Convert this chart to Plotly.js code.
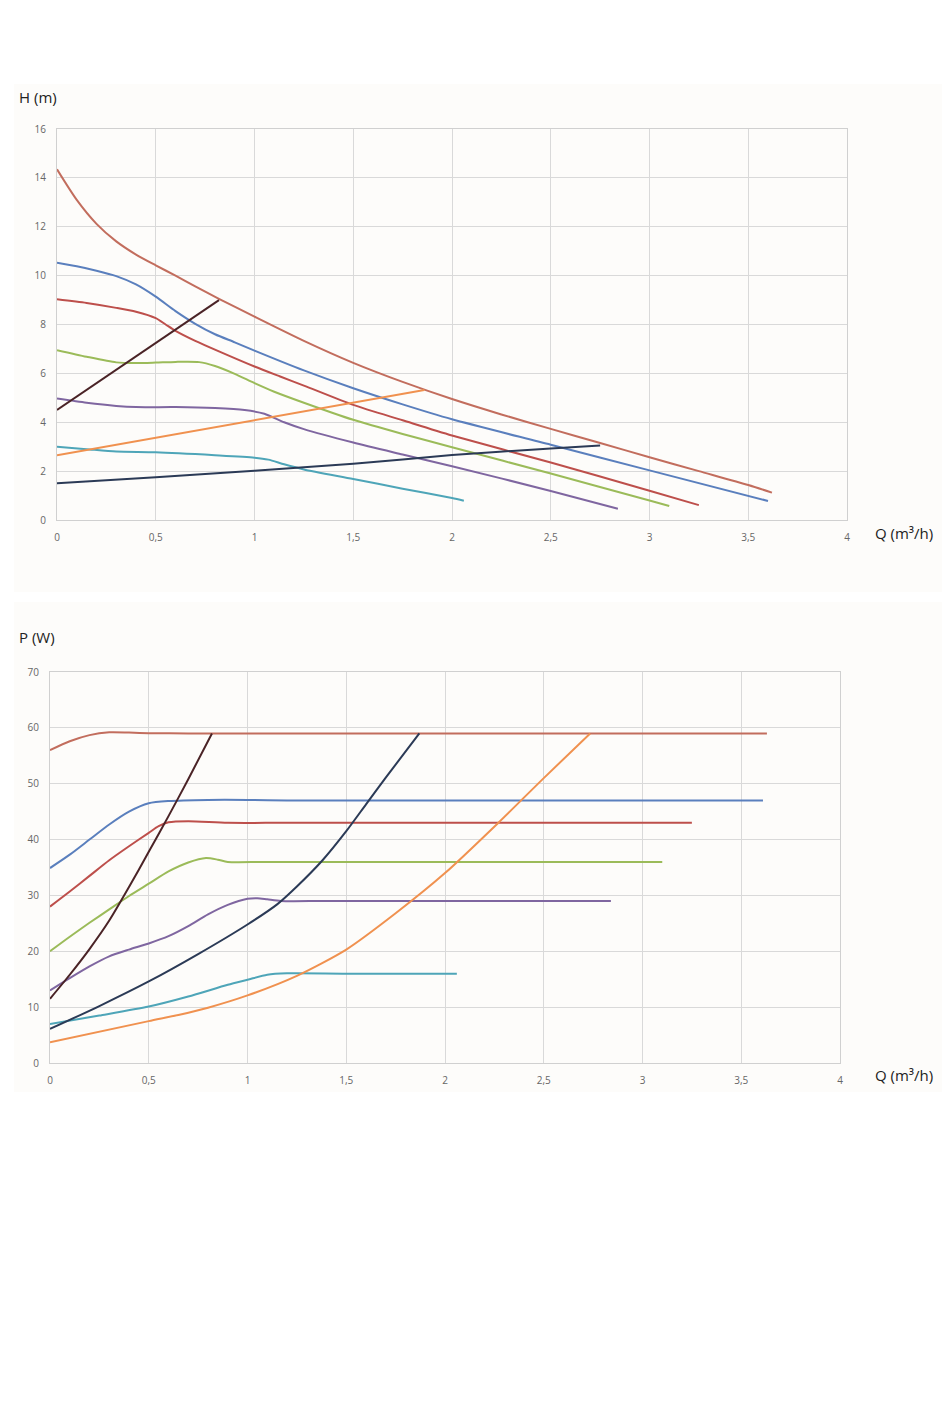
<!DOCTYPE html>
<html>
<head>
<meta charset="utf-8">
<script src="https://cdn.plot.ly/plotly-3.0.1.min.js"></script>
<style>
  html, body { margin: 0; padding: 0; background: #ffffff; }
  #fig { width: 950px; height: 1419px; }
</style>
</head>
<body>
<div id="fig"></div>
<script>
// ---- head curves H(Q) ----
var hQ1 = [0, 0.1, 0.2, 0.3, 0.4, 0.5, 0.6, 0.7, 0.82, 1, 1.25, 1.5, 1.75, 2, 2.25, 2.5, 2.75, 3, 3.25, 3.5, 3.62];
var hH1 = [14.35, 13.1, 12.12, 11.4, 10.86, 10.42, 10.0, 9.56, 9.05, 8.32, 7.33, 6.43, 5.65, 4.95, 4.32, 3.73, 3.15, 2.57, 2.0, 1.43, 1.12];
var hQ2 = [0, 0.1, 0.2, 0.3, 0.4, 0.5, 0.6, 0.7, 0.8, 0.9, 1, 1.25, 1.5, 1.75, 2, 2.5, 3, 3.6];
var hH2 = [10.53, 10.38, 10.2, 9.98, 9.64, 9.14, 8.55, 8.03, 7.6, 7.27, 6.93, 6.12, 5.39, 4.73, 4.12, 3.08, 2.03, 0.78];
var hQ3 = [0, 0.15, 0.3, 0.4, 0.5, 0.55, 0.6, 0.7, 0.82, 1, 1.13, 1.25, 1.5, 1.75, 2, 2.5, 3, 3.25];
var hH3 = [9.03, 8.88, 8.68, 8.52, 8.26, 8.0, 7.74, 7.33, 6.9, 6.28, 5.87, 5.5, 4.71, 4.08, 3.46, 2.35, 1.2, 0.61];
var hQ4 = [0, 0.15, 0.3, 0.4, 0.5, 0.6, 0.72, 0.8, 0.9, 1, 1.1, 1.25, 1.5, 1.75, 2, 2.5, 3, 3.1];
var hH4 = [6.95, 6.68, 6.45, 6.42, 6.44, 6.47, 6.46, 6.3, 5.98, 5.6, 5.25, 4.8, 4.1, 3.52, 2.98, 1.9, 0.8, 0.57];
var hQ5 = [0, 0.15, 0.3, 0.4, 0.6, 0.8, 0.95, 1.05, 1.15, 1.25, 1.5, 1.75, 2, 2.5, 2.84];
var hH5 = [4.97, 4.8, 4.67, 4.62, 4.62, 4.58, 4.5, 4.35, 4.0, 3.72, 3.17, 2.68, 2.2, 1.19, 0.46];
var hQ6 = [0, 0.15, 0.3, 0.5, 0.8, 1, 1.07, 1.15, 1.25, 1.5, 1.75, 2, 2.06];
var hH6 = [3.0, 2.9, 2.8, 2.77, 2.65, 2.55, 2.47, 2.28, 2.07, 1.68, 1.28, 0.9, 0.79];
// system lines
var hQ7 = [0, 0.82];
var hH7 = [4.5, 9.0];
var hQ8 = [0, 1.86];
var hH8 = [2.65, 5.32];
var hQ9 = [0, 0.5, 1, 1.5, 2, 2.5, 2.75];
var hH9 = [1.5, 1.75, 2.02, 2.3, 2.66, 2.93, 3.05];

// ---- power curves P(Q) ----
var pQ1 = [0, 0.1, 0.2, 0.3, 0.4, 0.5, 0.7, 1, 3.63];
var pP1 = [56, 57.6, 58.7, 59.2, 59.15, 59.05, 59, 59, 59];
var pQ2 = [0, 0.1, 0.2, 0.3, 0.4, 0.5, 0.6, 0.8, 1, 1.2, 1.5, 3.61];
var pP2 = [34.9, 37.3, 40, 42.7, 45, 46.5, 46.9, 47.1, 47.1, 47, 47, 47];
var pQ3 = [0, 0.1, 0.2, 0.3, 0.4, 0.5, 0.55, 0.6, 0.7, 0.9, 1.2, 3.25];
var pP3 = [28, 30.7, 33.5, 36.3, 38.8, 41.2, 42.4, 43.1, 43.3, 43, 43, 43];
var pQ4 = [0, 0.1, 0.2, 0.3, 0.4, 0.5, 0.6, 0.7, 0.79, 0.85, 0.9, 1.1, 3.1];
var pP4 = [20, 22.6, 25.1, 27.5, 29.9, 32.1, 34.3, 35.9, 36.7, 36.4, 36, 36, 36];
var pQ5 = [0, 0.1, 0.2, 0.3, 0.4, 0.5, 0.6, 0.7, 0.8, 0.9, 1, 1.05, 1.1, 1.17, 1.4, 2.84];
var pP5 = [13, 15.2, 17.3, 19.1, 20.3, 21.4, 22.7, 24.5, 26.6, 28.3, 29.4, 29.5, 29.3, 29, 29, 29];
var pQ6 = [0, 0.25, 0.5, 0.7, 0.9, 1, 1.1, 1.2, 1.5, 2.06];
var pP6 = [7, 8.5, 10.1, 11.9, 14, 14.9, 15.8, 16.05, 16, 16];
var pQ7 = [0, 0.1, 0.2, 0.3, 0.4, 0.5, 0.6, 0.7, 0.82];
var pP7 = [11.5, 15.8, 20.4, 25.5, 31.5, 37.8, 44.2, 50.8, 59];
var pQ8 = [0, 0.5, 0.65, 0.8, 1, 1.25, 1.5, 1.75, 2, 2.27, 2.5, 2.735];
var pP8 = [3.7, 7.5, 8.6, 9.9, 12.1, 15.6, 20.3, 26.8, 34, 43, 51, 59];
var pQ9 = [0, 0.25, 0.5, 0.75, 1, 1.15, 1.25, 1.38, 1.5, 1.6, 1.7, 1.87];
var pP9 = [6.1, 10.2, 14.6, 19.5, 24.8, 28.4, 31.6, 36.3, 41.5, 46.3, 51.1, 59];

var colors = ['#c26d5d', '#5a7fbd', '#bd4f4b', '#9bbb59', '#7f66a0', '#4ea5b8', '#4a2326', '#f0914f', '#2b3a56'];

var W = 950, H = 1419;
function px(x) { return x / W; }
function py(y) { return 1 - y / H; }

var traces = [];
var hQ = [hQ1, hQ2, hQ3, hQ4, hQ5, hQ6, hQ7, hQ8, hQ9];
var hH = [hH1, hH2, hH3, hH4, hH5, hH6, hH7, hH8, hH9];
var pQ = [pQ1, pQ2, pQ3, pQ4, pQ5, pQ6, pQ7, pQ8, pQ9];
var pP = [pP1, pP2, pP3, pP4, pP5, pP6, pP7, pP8, pP9];

for (var i = 0; i < 9; i++) {
  var straight = (i == 6 || i == 7);
  traces.push({ x: hQ[i], y: hH[i], xaxis: 'x', yaxis: 'y', type: 'scatter', mode: 'lines',
                line: { color: colors[i], width: 2, shape: straight ? 'linear' : 'spline', smoothing: 0.7 },
                hoverinfo: 'skip' });
}
for (var i = 0; i < 9; i++) {
  traces.push({ x: pQ[i], y: pP[i], xaxis: 'x2', yaxis: 'y2', type: 'scatter', mode: 'lines',
                line: { color: colors[i], width: 2, shape: 'spline', smoothing: 0.7 },
                hoverinfo: 'skip' });
}

var tickFont = { family: 'Open Sans, sans-serif', size: 10, color: '#666666' };
var axBase = {
  showgrid: true, gridcolor: '#d9d9d9', gridwidth: 1,
  showline: true, linecolor: '#d0d0d0', linewidth: 1, mirror: true,
  zeroline: false, ticks: '', tickfont: tickFont, fixedrange: true
};

function ax(extra) { return Object.assign({}, axBase, extra); }

var titleFont = { family: 'Open Sans, sans-serif', size: 15, color: '#222222' };

var layout = {
  width: W, height: H,
  margin: { l: 0, r: 0, t: 0, b: 0 },
  paper_bgcolor: '#ffffff',
  plot_bgcolor: '#fdfcfa',
  showlegend: false,
  separators: ', ',
  xaxis:  ax({ domain: [px(57), px(847)], range: [0, 4], dtick: 0.5, anchor: 'y', ticklabelstandoff: 8 }),
  yaxis:  ax({ domain: [py(520), py(129)], range: [0, 16], dtick: 2, anchor: 'x', ticklabelstandoff: 8 }),
  xaxis2: ax({ domain: [px(50), px(840)], range: [0, 4], dtick: 0.5, anchor: 'y2', ticklabelstandoff: 8 }),
  yaxis2: ax({ domain: [py(1063), py(672)], range: [0, 70], dtick: 10, anchor: 'x2', ticklabelstandoff: 8 }),
  shapes: [
    { type: 'rect', xref: 'paper', yref: 'paper', x0: px(14), x1: px(942), y0: py(592), y1: py(84),
      fillcolor: '#fdfcfa', line: { width: 0 }, layer: 'below' },
    { type: 'rect', xref: 'paper', yref: 'paper', x0: px(14), x1: px(942), y0: py(1092), y1: py(602),
      fillcolor: '#fdfcfa', line: { width: 0 }, layer: 'below' }
  ],
  annotations: [
    { text: 'H (m)', xref: 'paper', yref: 'paper', x: px(17), y: py(97), xanchor: 'left', yanchor: 'middle',
      showarrow: false, font: titleFont },
    { text: 'Q (m³/h)', xref: 'paper', yref: 'paper', x: px(873), y: py(533), xanchor: 'left', yanchor: 'middle',
      showarrow: false, font: titleFont },
    { text: 'P (W)', xref: 'paper', yref: 'paper', x: px(17), y: py(637), xanchor: 'left', yanchor: 'middle',
      showarrow: false, font: titleFont },
    { text: 'Q (m³/h)', xref: 'paper', yref: 'paper', x: px(873), y: py(1075), xanchor: 'left', yanchor: 'middle',
      showarrow: false, font: titleFont }
  ]
};

Plotly.newPlot('fig', traces, layout, { staticPlot: true });
</script>
</body>
</html>
